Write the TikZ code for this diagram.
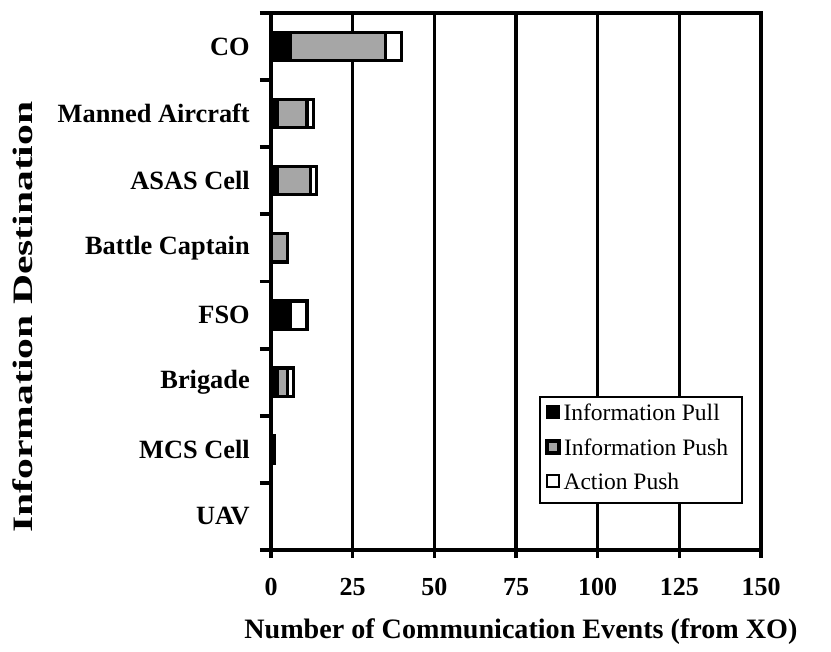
\documentclass[tikz,border=0pt]{standalone}
\usepackage{fontspec}
\setmainfont{Liberation Serif}
\usetikzlibrary{positioning}

\tikzset{
  axisline/.style={line width=2.2pt},
  gridline/.style={line width=1.8pt},
  barpull/.style={fill=black, draw=black, line width=1.8pt},
  barpush/.style={fill=black!35, draw=black, line width=1.8pt},
  baract/.style={fill=white, draw=black, line width=1.8pt},
  catlabel/.style={anchor=east, inner sep=0pt, font=\fontsize{15}{18}\selectfont\bfseries},
  ticklabel/.style={inner sep=0pt, font=\fontsize{14.8}{18}\selectfont\bfseries},
  axistitle/.style={inner sep=0pt, font=\fontsize{16}{19}\selectfont\bfseries},
  legtext/.style={inner sep=0pt, font=\fontsize{13.4}{16}\selectfont},
  swatch/.style={draw=black, line width=1.4pt, minimum size=0.24cm, inner sep=0pt},
}

\begin{document}
\begin{tikzpicture}[x=0.065333cm, y=1.3425cm]
\useasboundingbox (-82.96,-1.5196) rectangle (171.43,8.1937);

% grid lines
\foreach \v in {25,50,...,125}
  \draw[gridline] (\v,-0.12) -- (\v,8);

% frame and ticks
\draw[axisline] (-3.4,8) -- (150,8) -- (150,-0.12);
\draw[axisline] (-3.4,0) -- (150,0);
\draw[axisline] (0,-0.12) -- (0,8);
\foreach \k in {1,...,7}
  \draw[axisline] (-3.4,\k) -- (0,\k);

% x tick labels
\foreach \v in {0,25,...,150}
  \node[ticklabel] (t\v) at (\v,-0.55) {\v};

% bars: pull / push / action
\foreach \lab/\pl/\ps/\ac [count=\i from 0] in {CO/6/29/5, Manned Aircraft/2/9/2, ASAS Cell/2/10/2, Battle Captain/0/5/0, FSO/6/0/5, Brigade/2/3/2, MCS Cell/1/0/0, UAV/0/0/0} {
  \pgfmathsetmacro\yc{7.5-\i}
  \node[catlabel] (cat\i) at (-6.4,\yc) {\lab};
  \ifnum\pl>0 \draw[barpull] (0,\yc-0.21) rectangle (\pl,\yc+0.21); \fi
  \ifnum\ps>0 \draw[barpush] (\pl,\yc-0.21) rectangle ({\pl+\ps},\yc+0.21); \fi
  \ifnum\ac>0 \draw[baract] ({\pl+\ps},\yc-0.21) rectangle ({\pl+\ps+\ac},\yc+0.21); \fi
}

% axis titles
\node[axistitle] (xtitle) at (76.5,-1.22) {Number of Communication Events (from XO)};
\node[axistitle, rotate=90, xscale=1.48] (ytitle) at (-75.9,3.47) {Information Destination};

% legend
\draw[line width=1.2pt, fill=white] (82.3,0.70) rectangle (144.2,2.28);
\node[swatch, fill=black] (sw1) at (86.3,2.056) {};
\node[swatch, fill=black!35, line width=2pt] (sw2) at (86.3,1.534) {};
\node[swatch, fill=white] (sw3) at (86.3,1.028) {};
\node[legtext, right=0.06cm of sw1] (lg1) {Information Pull};
\node[legtext, right=0.06cm of sw2] (lg2) {Information Push};
\node[legtext, right=0.06cm of sw3] (lg3) {Action Push};
\end{tikzpicture}
\end{document}
